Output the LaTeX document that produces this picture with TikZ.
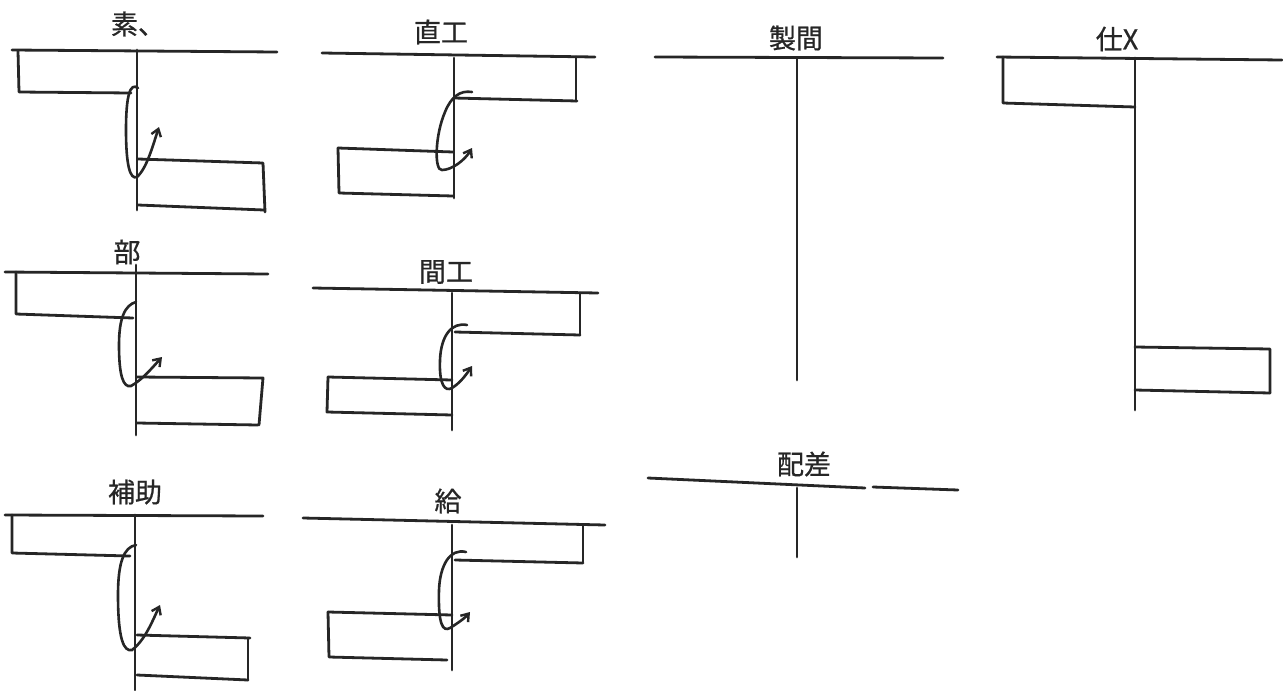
\documentclass[tikz,border=0pt]{standalone}
\usepackage{fontspec}
\newfontfamily\jpfont[FakeBold=0.7]{Noto Sans CJK JP}
\usetikzlibrary{arrows.meta}
\tikzset{
  acc/.style={line width=2.8pt, line cap=round, line join=round, black!85},
  flow/.style={line width=2.6pt, line cap=round, black!85, -{Straight Barb[length=7pt,width=10pt,line width=2.4pt]}},
  ttl/.style={font=\jpfont\fontsize{27}{30}\selectfont, inner sep=0pt, black!85}
}
\begin{document}
\begin{tikzpicture}[x=1pt,y=-1pt]
\useasboundingbox[fill=white] (0,0) rectangle (1283,691);

% ---------- 1: 素、 ----------
\node[ttl] (t1) at (138,24) {素、};
\draw[acc] (12,50) -- (277,52);
\draw[acc] (137,50) -- (137,210);
\draw[acc] (18,51) -- (19,92) -- (131,93);
\draw[acc] (138,159) -- (263,163) -- (265,212);
\draw[acc] (138,205) -- (264,210);
\coordinate (a1s) at (138,88);
\coordinate (a1e) at (159,127);
\draw[flow] (a1s) .. controls (130,82) and (126,96) .. (126,130)
  .. controls (126,165) and (130,180) .. (137,177)
  .. controls (147,168) and (153,145) .. (a1e);

% ---------- 2: 直工 ----------
\node[ttl] (t2) at (441,32) {直工};
\draw[acc] (322,53) -- (595,57);
\draw[acc] (454,58) -- (454,198);
\draw[acc] (576,57) -- (576,101);
\draw[acc] (454,98) -- (577,101);
\draw[acc] (338,148) -- (453,152);
\draw[acc] (338,148) -- (339,193) -- (453,196);
\coordinate (a2s) at (472,92);
\coordinate (a2e) at (472,148);
\draw[flow] (a2s) .. controls (460,90) and (451,97) .. (445,112)
  .. controls (435,135) and (434,171) .. (442,170)
  .. controls (452,170) and (465,160) .. (a2e);

% ---------- 3: 部 ----------
\node[ttl] (t3) at (127,252) {部};
\draw[acc] (5,272) -- (268,274);
\draw[acc] (136,265) -- (136,435);
\draw[acc] (16,272) -- (16,314) -- (133,318);
\draw[acc] (137,377) -- (263,378) -- (259,425);
\draw[acc] (137,423) -- (258,425);
\coordinate (a3s) at (136,302);
\coordinate (a3e) at (162,357);
\draw[flow] (a3s) .. controls (125,305) and (119,318) .. (119,345)
  .. controls (119,375) and (123,388) .. (131,386)
  .. controls (142,380) and (152,368) .. (a3e);

% ---------- 4: 間工 ----------
\node[ttl] (t4) at (446,272) {間工};
\draw[acc] (313,288) -- (598,293);
\draw[acc] (452,293) -- (452,430);
\draw[acc] (580,293) -- (580,335);
\draw[acc] (455,332) -- (580,335);
\draw[acc] (328,377) -- (452,380);
\draw[acc] (328,377) -- (327,412) -- (452,415);
\coordinate (a4s) at (467,325);
\coordinate (a4e) at (472,366);
\draw[flow] (a4s) .. controls (452,322) and (441,335) .. (440,360)
  .. controls (439,385) and (445,392) .. (452,388)
  .. controls (460,383) and (466,375) .. (a4e);

% ---------- 5: 補助 ----------
\node[ttl] (t5) at (135,492) {補助};
\draw[acc] (5,515) -- (263,516);
\draw[acc] (135,515) -- (135,690);
\draw[acc] (12,515) -- (12,553) -- (130,556);
\draw[acc] (137,635) -- (250,638);
\draw[acc] (248,638) -- (248,680);
\draw[acc] (137,675) -- (248,680);
\coordinate (a5s) at (136,545);
\coordinate (a5e) at (160,605);
\draw[flow] (a5s) .. controls (124,547) and (118,562) .. (118,595)
  .. controls (118,640) and (124,652) .. (132,650)
  .. controls (145,640) and (152,622) .. (a5e);

% ---------- 6: 給 ----------
\node[ttl] (t6) at (448,501) {給};
\draw[acc] (303,518) -- (605,525);
\draw[acc] (452,525) -- (452,670);
\draw[acc] (583,525) -- (583,562);
\draw[acc] (455,560) -- (583,563);
\draw[acc] (328,612) -- (452,615);
\draw[acc] (328,612) -- (329,657) -- (447,660);
\coordinate (a6s) at (466,552);
\coordinate (a6e) at (470,612);
\draw[flow] (a6s) .. controls (450,548) and (440,565) .. (439,590)
  .. controls (438,625) and (443,632) .. (450,628)
  .. controls (458,623) and (465,618) .. (a6e);

% ---------- 7: 製間 ----------
\node[ttl] (t7) at (796,38) {製間};
\draw[acc] (655,57) -- (943,58);
\draw[acc] (797,58) -- (797,380);

% ---------- 8: 仕X ----------
\node[ttl] (t8) at (1117,39) {仕X};
\draw[acc] (997,57) -- (1282,60);
\draw[acc] (1135,58) -- (1135,410);
\draw[acc] (1003,57) -- (1003,103) -- (1135,107);
\draw[acc] (1135,347) -- (1270,349) -- (1270,393);
\draw[acc] (1135,390) -- (1270,393);

% ---------- 9: 配差 ----------
\node[ttl] (t9) at (804,464) {配差};
\draw[acc] (648,478) -- (865,488);
\draw[acc] (873,487) -- (958,490);
\draw[acc] (797,488) -- (797,557);
\end{tikzpicture}
\end{document}
